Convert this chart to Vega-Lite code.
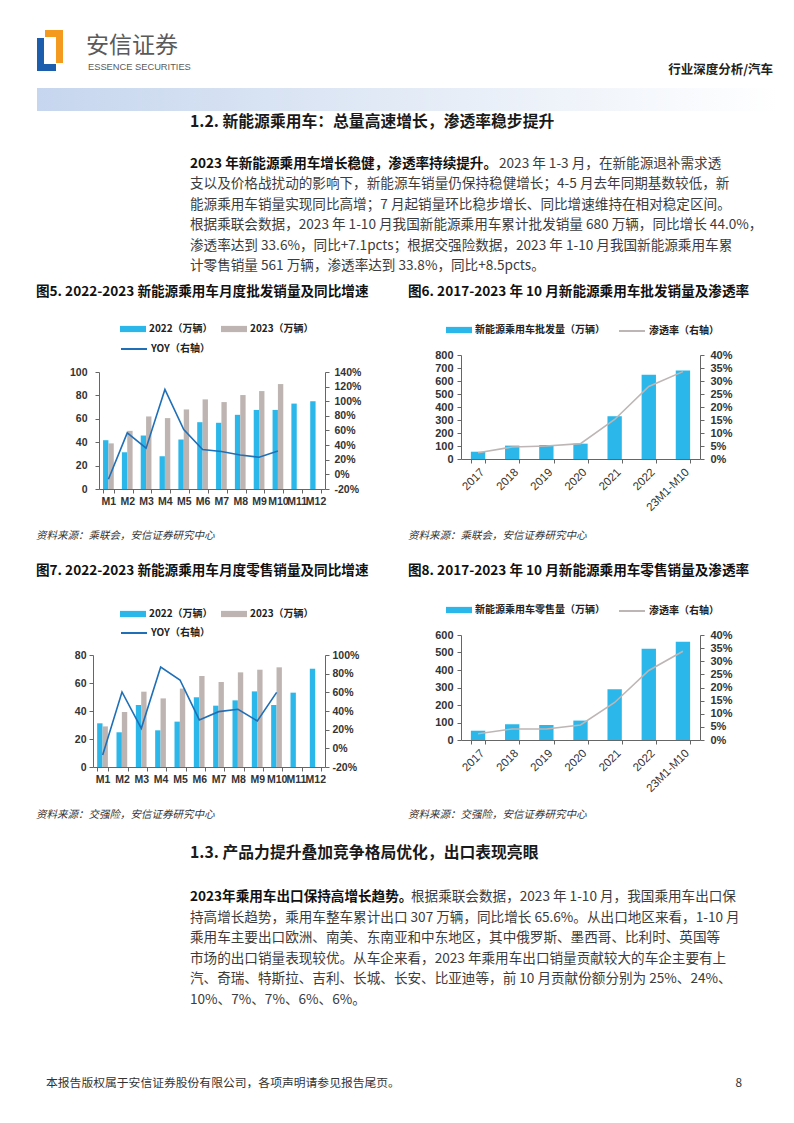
{
  "$schema": "https://vega.github.io/schema/vega-lite/v6.json",
  "padding": 0,
  "background": "white",
  "spacing": 0,
  "bounds": "flush",
  "columns": 4,
  "resolve": {"scale": {"color": "independent", "stroke": "independent"}, "legend": {"color": "independent", "stroke": "independent"}},
  "config": {
    "font": "Noto Sans CJK SC",
    "view": {"stroke": null},
    "axis": {"labelFont": "Liberation Sans", "labelFontWeight": "bold", "labelFontSize": 10.5, "labelColor": "#333333", "domainColor": "#666666", "tickColor": "#666666", "tickSize": 4, "grid": false},
    "legend": {"padding": 0, "labelFont": "Noto Sans CJK SC", "labelFontWeight": "bold", "labelFontSize": 10, "labelColor": "#222222", "labelOffset": 3, "columnPadding": 8, "title": null}
  },
  "concat": [
    {
      "width": 93, "height": 112,
      "data": {"values": [{"a": 1}]},
      "layer": [
        {"mark": {"type": "rect", "color": {"gradient": "linear", "x1": 0, "y1": 0, "x2": 1, "y2": 0, "stops": [{"offset": 0, "color": "#C6D6EE"}, {"offset": 0.55, "color": "#E6EDF7"}, {"offset": 1, "color": "#FFFFFF"}]}}, "encoding": {"x": {"value": 37}, "x2": {"value": 778}, "y": {"value": 85}, "y2": {"value": 108}}},
        {"mark": {"type": "rect", "color": "#1D5DAE"}, "encoding": {"x": {"value": 37}, "x2": {"value": 44}, "y": {"value": 35}, "y2": {"value": 68}}},
        {"mark": {"type": "rect", "color": "#1D5DAE"}, "encoding": {"x": {"value": 37}, "x2": {"value": 56}, "y": {"value": 61}, "y2": {"value": 68}}},
        {"mark": {"type": "rect", "color": "#F39A1F"}, "encoding": {"x": {"value": 45}, "x2": {"value": 63}, "y": {"value": 27}, "y2": {"value": 34}}},
        {"mark": {"type": "rect", "color": "#F39A1F"}, "encoding": {"x": {"value": 56}, "x2": {"value": 63}, "y": {"value": 27}, "y2": {"value": 60}}},
        {"data": {"values": [{"t": "安信证券"}]}, "mark": {"type": "text", "align": "left", "baseline": "middle", "fontSize": 23, "color": "#5A5A5A"}, "encoding": {"text": {"field": "t"}, "x": {"value": 86}, "y": {"value": 43}}},
        {"data": {"values": [{"t": "ESSENCE SECURITIES"}]}, "mark": {"type": "text", "align": "left", "baseline": "middle", "fontSize": 9.3, "font": "Liberation Sans", "color": "#5A5A5A"}, "encoding": {"text": {"field": "t"}, "x": {"value": 88}, "y": {"value": 64}}},
        {"data": {"values": [{"t": "行业深度分析/汽车"}]}, "mark": {"type": "text", "align": "right", "baseline": "middle", "fontSize": 12.5, "fontWeight": "bold", "color": "#222222"}, "encoding": {"text": {"field": "t"}, "x": {"value": 773}, "y": {"value": 67}}}
      ]
    },
    {"width": 232, "height": 1, "data": {"values": [{}]}, "mark": {"type": "point", "opacity": 0}},
    {"width": 136, "height": 1, "data": {"values": [{}]}, "mark": {"type": "point", "opacity": 0}},
    {"width": 239, "height": 1, "data": {"values": [{}]}, "mark": {"type": "point", "opacity": 0}},
    {
      "width": 93, "height": 168,
      "layer": [
        {"data": {"values": [{"t": "1.2. 新能源乘用车：总量高速增长，渗透率稳步提升"}]}, "mark": {"type": "text", "align": "left", "baseline": "middle", "fontSize": 15.8, "fontWeight": "bold", "color": "#1A1A1A"}, "encoding": {"text": {"field": "t"}, "x": {"value": 190}, "y": {"value": 7}}},
        {"data": {"values": [{"t": "2023 年新能源乘用车增长稳健，渗透率持续提升。"}]}, "mark": {"type": "text", "align": "left", "baseline": "middle", "fontSize": 13.6, "fontWeight": "bold", "color": "#111111"}, "encoding": {"text": {"field": "t"}, "x": {"value": 190}, "y": {"value": 49}}},
        {"data": {"values": [{"t": "2023 年 1-3 月，在新能源退补需求透"}]}, "mark": {"type": "text", "align": "left", "baseline": "middle", "fontSize": 13.6, "color": "#3C3C3C"}, "encoding": {"text": {"field": "t"}, "x": {"value": 499}, "y": {"value": 49}}},
        {"data": {"values": [
          {"i": 1, "t": "支以及价格战扰动的影响下，新能源车销量仍保持稳健增长；4-5 月去年同期基数较低，新"},
          {"i": 2, "t": "能源乘用车销量实现同比高增；7 月起销量环比稳步增长、同比增速维持在相对稳定区间。"},
          {"i": 3, "t": "根据乘联会数据，2023 年 1-10 月我国新能源乘用车累计批发销量 680 万辆，同比增长 44.0%，"},
          {"i": 4, "t": "渗透率达到 33.6%，同比+7.1pcts；根据交强险数据，2023 年 1-10 月我国新能源乘用车累"},
          {"i": 5, "t": "计零售销量 561 万辆，渗透率达到 33.8%，同比+8.5pcts。"}
        ]}, "mark": {"type": "text", "align": "left", "baseline": "middle", "fontSize": 13.6, "color": "#3C3C3C"}, "encoding": {"text": {"field": "t"}, "x": {"value": 190}, "y": {"field": "i", "type": "quantitative", "scale": {"domain": [0, 5], "range": [49, 151]}, "axis": null}}},
        {"mark": {"type": "rule", "color": "#333333", "strokeWidth": 1}, "encoding": {"x": {"value": 190}, "x2": {"value": 757}, "y": {"value": 120}}},
        {"mark": {"type": "rule", "color": "#333333", "strokeWidth": 1}, "encoding": {"x": {"value": 190}, "x2": {"value": 757}, "y": {"value": 141}}},
        {"mark": {"type": "rule", "color": "#333333", "strokeWidth": 1}, "encoding": {"x": {"value": 190}, "x2": {"value": 552}, "y": {"value": 161}}}
      ]
    },
    {"width": 232, "height": 1, "data": {"values": [{}]}, "mark": {"type": "point", "opacity": 0}},
    {"width": 136, "height": 1, "data": {"values": [{}]}, "mark": {"type": "point", "opacity": 0}},
    {"width": 239, "height": 1, "data": {"values": [{}]}, "mark": {"type": "point", "opacity": 0}},
    {
      "width": 93, "height": 72,
      "layer": [
        {"data": {"values": [{"t": "图5. 2022-2023 新能源乘用车月度批发销量及同比增速"}]}, "mark": {"type": "text", "align": "left", "baseline": "middle", "fontSize": 13.6, "fontWeight": "bold", "color": "#111111"}, "encoding": {"text": {"field": "t"}, "x": {"value": 36}, "y": {"value": 9}}},
        {"data": {"values": [{"t": "图6. 2017-2023 年 10 月新能源乘用车批发销量及渗透率"}]}, "mark": {"type": "text", "align": "left", "baseline": "middle", "fontSize": 13.6, "fontWeight": "bold", "color": "#111111"}, "encoding": {"text": {"field": "t"}, "x": {"value": 408}, "y": {"value": 9}}},
        {"mark": {"type": "rule", "color": "#111111", "strokeWidth": 1.5}, "encoding": {"x": {"value": 35}, "x2": {"value": 391}, "y": {"value": 21}}},
        {"mark": {"type": "rule", "color": "#111111", "strokeWidth": 1.5}, "encoding": {"x": {"value": 407}, "x2": {"value": 764}, "y": {"value": 21}}}
      ]
    },
    {"width": 232, "height": 1, "data": {"values": [{}]}, "mark": {"type": "point", "opacity": 0}},
    {"width": 136, "height": 1, "data": {"values": [{}]}, "mark": {"type": "point", "opacity": 0}},
    {"width": 239, "height": 1, "data": {"values": [{}]}, "mark": {"type": "point", "opacity": 0}},
    {"width": 93, "height": 1, "data": {"values": [{}]}, "mark": {"type": "point", "opacity": 0}},
    {
      "width": 232, "height": 134,
      "layer": [
        {
          "data": {"values": [
            {"m": "M1", "s": "2022（万辆）", "v": 41.7}, {"m": "M2", "s": "2022（万辆）", "v": 31.4}, {"m": "M3", "s": "2022（万辆）", "v": 45.7}, {"m": "M4", "s": "2022（万辆）", "v": 28.0}, {"m": "M5", "s": "2022（万辆）", "v": 42.3}, {"m": "M6", "s": "2022（万辆）", "v": 57.1}, {"m": "M7", "s": "2022（万辆）", "v": 56.6}, {"m": "M8", "s": "2022（万辆）", "v": 63.4}, {"m": "M9", "s": "2022（万辆）", "v": 67.6}, {"m": "M10", "s": "2022（万辆）", "v": 67.6}, {"m": "M11", "s": "2022（万辆）", "v": 73.0}, {"m": "M12", "s": "2022（万辆）", "v": 75.0},
            {"m": "M1", "s": "2023（万辆）", "v": 39.0}, {"m": "M2", "s": "2023（万辆）", "v": 49.7}, {"m": "M3", "s": "2023（万辆）", "v": 62.0}, {"m": "M4", "s": "2023（万辆）", "v": 60.6}, {"m": "M5", "s": "2023（万辆）", "v": 68.0}, {"m": "M6", "s": "2023（万辆）", "v": 76.6}, {"m": "M7", "s": "2023（万辆）", "v": 74.3}, {"m": "M8", "s": "2023（万辆）", "v": 80.3}, {"m": "M9", "s": "2023（万辆）", "v": 83.7}, {"m": "M10", "s": "2023（万辆）", "v": 89.7}
          ]},
          "mark": {"type": "bar"},
          "encoding": {
            "x": {"field": "m", "type": "nominal", "sort": null, "scale": {"domain": ["M1", "M2", "M3", "M4", "M5", "M6", "M7", "M8", "M9", "M10", "M11", "M12"], "paddingInner": 0.43, "paddingOuter": 0.215, "range": [6, 232]}, "axis": {"title": null, "labelAngle": 0, "tickBand": "extent", "labelPadding": 3}},
            "xOffset": {"field": "s", "type": "nominal", "sort": null, "scale": {"domain": ["2022（万辆）", "2023（万辆）"], "paddingInner": 0}},
            "y": {"field": "v", "type": "quantitative", "scale": {"domain": [0, 100], "nice": false, "range": [134, 17]}, "axis": {"title": null, "values": [0, 20, 40, 60, 80, 100], "labelPadding": 8, "offset": -6}},
            "color": {"field": "s", "type": "nominal", "sort": null, "scale": {"domain": ["2022（万辆）", "2023（万辆）"], "range": ["#2BB7E9", "#BEB5B2"]}, "legend": {"orient": "none", "legendX": 27, "legendY": -39, "direction": "horizontal", "symbolType": "M-1,-0.24H1V0.24H-1Z", "symbolSize": 676, "symbolStrokeWidth": 0}}
          }
        },
        {
          "data": {"values": [
            {"m": "M1", "k": "YOY（右轴）", "yoy": -0.067}, {"m": "M2", "k": "YOY（右轴）", "yoy": 0.568}, {"m": "M3", "k": "YOY（右轴）", "yoy": 0.358}, {"m": "M4", "k": "YOY（右轴）", "yoy": 1.162}, {"m": "M5", "k": "YOY（右轴）", "yoy": 0.614}, {"m": "M6", "k": "YOY（右轴）", "yoy": 0.34}, {"m": "M7", "k": "YOY（右轴）", "yoy": 0.312}, {"m": "M8", "k": "YOY（右轴）", "yoy": 0.266}, {"m": "M9", "k": "YOY（右轴）", "yoy": 0.234}, {"m": "M10", "k": "YOY（右轴）", "yoy": 0.321}
          ]},
          "mark": {"type": "line", "strokeWidth": 1.6},
          "encoding": {
            "x": {"field": "m", "type": "nominal", "sort": null},
            "y": {"field": "yoy", "type": "quantitative", "scale": {"domain": [-0.2, 1.4], "nice": false, "range": [134, 17]}, "axis": {"title": null, "orient": "right", "values": [-0.2, 0, 0.2, 0.4, 0.6, 0.8, 1.0, 1.2, 1.4], "labelExpr": "replace(format(datum.value, '.0%'), '−', '-')", "labelPadding": 5}},
            "stroke": {"field": "k", "type": "nominal", "scale": {"range": ["#1F6FB7"]}, "legend": {"orient": "none", "legendX": 27, "legendY": -20, "symbolType": "stroke", "symbolSize": 676, "symbolStrokeWidth": 2}}
          }
        }
      ],
      "resolve": {"scale": {"y": "independent"}}
    },
    {"width": 136, "height": 1, "data": {"values": [{}]}, "mark": {"type": "point", "opacity": 0}},
    {
      "width": 239, "height": 104,
      "layer": [
        {
          "data": {"values": [
            {"y": "2017", "k": "新能源乘用车批发量（万辆）", "v": 56}, {"y": "2018", "k": "新能源乘用车批发量（万辆）", "v": 103}, {"y": "2019", "k": "新能源乘用车批发量（万辆）", "v": 107}, {"y": "2020", "k": "新能源乘用车批发量（万辆）", "v": 118}, {"y": "2021", "k": "新能源乘用车批发量（万辆）", "v": 329}, {"y": "2022", "k": "新能源乘用车批发量（万辆）", "v": 649}, {"y": "23M1-M10", "k": "新能源乘用车批发量（万辆）", "v": 680}
          ]},
          "mark": {"type": "bar"},
          "encoding": {
            "x": {"field": "y", "type": "nominal", "sort": null, "scale": {"paddingInner": 0.58, "paddingOuter": 0.29}, "axis": {"title": null, "labelAngle": -45, "labelFontWeight": "normal", "labelFontSize": 11.5, "tickBand": "extent", "labelPadding": 3}},
            "y": {"field": "v", "type": "quantitative", "scale": {"domain": [0, 800], "nice": false}, "axis": {"title": null, "values": [0, 100, 200, 300, 400, 500, 600, 700, 800], "labelPadding": 4, "labelFontSize": 11}},
            "color": {"field": "k", "type": "nominal", "scale": {"range": ["#2BB7E9"]}, "legend": {"orient": "none", "legendX": -15, "legendY": -38, "symbolType": "M-1,-0.24H1V0.24H-1Z", "symbolSize": 676, "symbolStrokeWidth": 0}}
          }
        },
        {
          "data": {"values": [
            {"y": "2017", "k": "渗透率（右轴）", "p": 0.024}, {"y": "2018", "k": "渗透率（右轴）", "p": 0.046}, {"y": "2019", "k": "渗透率（右轴）", "p": 0.05}, {"y": "2020", "k": "渗透率（右轴）", "p": 0.059}, {"y": "2021", "k": "渗透率（右轴）", "p": 0.152}, {"y": "2022", "k": "渗透率（右轴）", "p": 0.279}, {"y": "23M1-M10", "k": "渗透率（右轴）", "p": 0.336}
          ]},
          "mark": {"type": "line", "strokeWidth": 1.6},
          "encoding": {
            "x": {"field": "y", "type": "nominal", "sort": null},
            "y": {"field": "p", "type": "quantitative", "scale": {"domain": [0, 0.4], "nice": false}, "axis": {"title": null, "orient": "right", "values": [0, 0.05, 0.1, 0.15, 0.2, 0.25, 0.3, 0.35, 0.4], "format": ".0%", "labelPadding": 6, "labelFontSize": 11}},
            "stroke": {"field": "k", "type": "nominal", "scale": {"range": ["#BDB6B5"]}, "legend": {"orient": "none", "legendX": 157, "legendY": -38, "symbolType": "stroke", "symbolSize": 676, "symbolStrokeWidth": 2}}
          }
        }
      ],
      "resolve": {"scale": {"y": "independent"}}
    },
    {
      "width": 93, "height": 146,
      "layer": [
        {"mark": {"type": "rule", "color": "#111111", "strokeWidth": 1.5}, "encoding": {"x": {"value": 35}, "x2": {"value": 391}, "y": {"value": 38}}},
        {"mark": {"type": "rule", "color": "#111111", "strokeWidth": 1.5}, "encoding": {"x": {"value": 407}, "x2": {"value": 764}, "y": {"value": 38}}},
        {"data": {"values": [{"t": "资料来源：乘联会，安信证券研究中心"}]}, "mark": {"type": "text", "align": "left", "baseline": "middle", "fontSize": 10.5, "fontStyle": "italic", "color": "#333333"}, "encoding": {"text": {"field": "t"}, "x": {"value": 36}, "y": {"value": 47}}},
        {"data": {"values": [{"t": "资料来源：乘联会，安信证券研究中心"}]}, "mark": {"type": "text", "align": "left", "baseline": "middle", "fontSize": 10.5, "fontStyle": "italic", "color": "#333333"}, "encoding": {"text": {"field": "t"}, "x": {"value": 408}, "y": {"value": 47}}},
        {"data": {"values": [{"t": "图7. 2022-2023 新能源乘用车月度零售销量及同比增速"}]}, "mark": {"type": "text", "align": "left", "baseline": "middle", "fontSize": 13.6, "fontWeight": "bold", "color": "#111111"}, "encoding": {"text": {"field": "t"}, "x": {"value": 36}, "y": {"value": 82}}},
        {"data": {"values": [{"t": "图8. 2017-2023 年 10 月新能源乘用车零售销量及渗透率"}]}, "mark": {"type": "text", "align": "left", "baseline": "middle", "fontSize": 13.6, "fontWeight": "bold", "color": "#111111"}, "encoding": {"text": {"field": "t"}, "x": {"value": 408}, "y": {"value": 82}}},
        {"mark": {"type": "rule", "color": "#111111", "strokeWidth": 1.5}, "encoding": {"x": {"value": 35}, "x2": {"value": 391}, "y": {"value": 94}}},
        {"mark": {"type": "rule", "color": "#111111", "strokeWidth": 1.5}, "encoding": {"x": {"value": 407}, "x2": {"value": 764}, "y": {"value": 94}}}
      ]
    },
    {"width": 232, "height": 1, "data": {"values": [{}]}, "mark": {"type": "point", "opacity": 0}},
    {"width": 136, "height": 1, "data": {"values": [{}]}, "mark": {"type": "point", "opacity": 0}},
    {"width": 239, "height": 1, "data": {"values": [{}]}, "mark": {"type": "point", "opacity": 0}},
    {"width": 93, "height": 1, "data": {"values": [{}]}, "mark": {"type": "point", "opacity": 0}},
    {
      "width": 232, "height": 132,
      "layer": [
        {
          "data": {"values": [
            {"m": "M1", "s": "2022（万辆）", "v": 31.2}, {"m": "M2", "s": "2022（万辆）", "v": 24.8}, {"m": "M3", "s": "2022（万辆）", "v": 44.3}, {"m": "M4", "s": "2022（万辆）", "v": 26.2}, {"m": "M5", "s": "2022（万辆）", "v": 32.4}, {"m": "M6", "s": "2022（万辆）", "v": 49.8}, {"m": "M7", "s": "2022（万辆）", "v": 43.8}, {"m": "M8", "s": "2022（万辆）", "v": 47.6}, {"m": "M9", "s": "2022（万辆）", "v": 54.0}, {"m": "M10", "s": "2022（万辆）", "v": 44.3}, {"m": "M11", "s": "2022（万辆）", "v": 53.1}, {"m": "M12", "s": "2022（万辆）", "v": 70.2},
            {"m": "M1", "s": "2023（万辆）", "v": 29.0}, {"m": "M2", "s": "2023（万辆）", "v": 39.3}, {"m": "M3", "s": "2023（万辆）", "v": 53.8}, {"m": "M4", "s": "2023（万辆）", "v": 49.0}, {"m": "M5", "s": "2023（万辆）", "v": 56.0}, {"m": "M6", "s": "2023（万辆）", "v": 65.0}, {"m": "M7", "s": "2023（万辆）", "v": 60.7}, {"m": "M8", "s": "2023（万辆）", "v": 67.6}, {"m": "M9", "s": "2023（万辆）", "v": 69.5}, {"m": "M10", "s": "2023（万辆）", "v": 71.2}
          ]},
          "mark": {"type": "bar"},
          "encoding": {
            "x": {"field": "m", "type": "nominal", "sort": null, "scale": {"domain": ["M1", "M2", "M3", "M4", "M5", "M6", "M7", "M8", "M9", "M10", "M11", "M12"], "paddingInner": 0.43, "paddingOuter": 0.215}, "axis": {"title": null, "labelAngle": 0, "tickBand": "extent", "labelPadding": 3}},
            "xOffset": {"field": "s", "type": "nominal", "sort": null, "scale": {"domain": ["2022（万辆）", "2023（万辆）"], "paddingInner": 0}},
            "y": {"field": "v", "type": "quantitative", "scale": {"domain": [0, 80], "nice": false, "range": [132, 20]}, "axis": {"title": null, "values": [0, 20, 40, 60, 80], "labelPadding": 3}},
            "color": {"field": "s", "type": "nominal", "sort": null, "scale": {"domain": ["2022（万辆）", "2023（万辆）"], "range": ["#2BB7E9", "#BEB5B2"]}, "legend": {"orient": "none", "legendX": 27, "legendY": -34, "direction": "horizontal", "symbolType": "M-1,-0.24H1V0.24H-1Z", "symbolSize": 676, "symbolStrokeWidth": 0}}
          }
        },
        {
          "data": {"values": [
            {"m": "M1", "k": "YOY（右轴）", "yoy": -0.071}, {"m": "M2", "k": "YOY（右轴）", "yoy": 0.604}, {"m": "M3", "k": "YOY（右轴）", "yoy": 0.214}, {"m": "M4", "k": "YOY（右轴）", "yoy": 0.871}, {"m": "M5", "k": "YOY（右轴）", "yoy": 0.732}, {"m": "M6", "k": "YOY（右轴）", "yoy": 0.304}, {"m": "M7", "k": "YOY（右轴）", "yoy": 0.393}, {"m": "M8", "k": "YOY（右轴）", "yoy": 0.418}, {"m": "M9", "k": "YOY（右轴）", "yoy": 0.293}, {"m": "M10", "k": "YOY（右轴）", "yoy": 0.60}
          ]},
          "mark": {"type": "line", "strokeWidth": 1.6},
          "encoding": {
            "x": {"field": "m", "type": "nominal", "sort": null},
            "y": {"field": "yoy", "type": "quantitative", "scale": {"domain": [-0.2, 1.0], "nice": false, "range": [132, 20]}, "axis": {"title": null, "orient": "right", "values": [-0.2, 0, 0.2, 0.4, 0.6, 0.8, 1.0], "labelExpr": "replace(format(datum.value, '.0%'), '−', '-')", "labelPadding": 3}},
            "stroke": {"field": "k", "type": "nominal", "scale": {"range": ["#1F6FB7"]}, "legend": {"orient": "none", "legendX": 27, "legendY": -16, "symbolType": "stroke", "symbolSize": 676, "symbolStrokeWidth": 2}}
          }
        }
      ],
      "resolve": {"scale": {"y": "independent"}}
    },
    {"width": 136, "height": 1, "data": {"values": [{}]}, "mark": {"type": "point", "opacity": 0}},
    {
      "width": 239, "height": 105,
      "layer": [
        {
          "data": {"values": [
            {"y": "2017", "k": "新能源乘用车零售量（万辆）", "v": 53}, {"y": "2018", "k": "新能源乘用车零售量（万辆）", "v": 90}, {"y": "2019", "k": "新能源乘用车零售量（万辆）", "v": 86}, {"y": "2020", "k": "新能源乘用车零售量（万辆）", "v": 111}, {"y": "2021", "k": "新能源乘用车零售量（万辆）", "v": 290}, {"y": "2022", "k": "新能源乘用车零售量（万辆）", "v": 521}, {"y": "23M1-M10", "k": "新能源乘用车零售量（万辆）", "v": 561}
          ]},
          "mark": {"type": "bar"},
          "encoding": {
            "x": {"field": "y", "type": "nominal", "sort": null, "scale": {"paddingInner": 0.58, "paddingOuter": 0.29}, "axis": {"title": null, "labelAngle": -45, "labelFontWeight": "normal", "labelFontSize": 11.5, "tickBand": "extent", "labelPadding": 3}},
            "y": {"field": "v", "type": "quantitative", "scale": {"domain": [0, 600], "nice": false}, "axis": {"title": null, "values": [0, 100, 200, 300, 400, 500, 600], "labelPadding": 4, "labelFontSize": 11}},
            "color": {"field": "k", "type": "nominal", "scale": {"range": ["#2BB7E9"]}, "legend": {"orient": "none", "legendX": -15, "legendY": -38, "symbolType": "M-1,-0.24H1V0.24H-1Z", "symbolSize": 676, "symbolStrokeWidth": 0}}
          }
        },
        {
          "data": {"values": [
            {"y": "2017", "k": "渗透率（右轴）", "p": 0.024}, {"y": "2018", "k": "渗透率（右轴）", "p": 0.042}, {"y": "2019", "k": "渗透率（右轴）", "p": 0.042}, {"y": "2020", "k": "渗透率（右轴）", "p": 0.057}, {"y": "2021", "k": "渗透率（右轴）", "p": 0.143}, {"y": "2022", "k": "渗透率（右轴）", "p": 0.265}, {"y": "23M1-M10", "k": "渗透率（右轴）", "p": 0.338}
          ]},
          "mark": {"type": "line", "strokeWidth": 1.6},
          "encoding": {
            "x": {"field": "y", "type": "nominal", "sort": null},
            "y": {"field": "p", "type": "quantitative", "scale": {"domain": [0, 0.4], "nice": false}, "axis": {"title": null, "orient": "right", "values": [0, 0.05, 0.1, 0.15, 0.2, 0.25, 0.3, 0.35, 0.4], "format": ".0%", "labelPadding": 6, "labelFontSize": 11}},
            "stroke": {"field": "k", "type": "nominal", "scale": {"range": ["#BDB6B5"]}, "legend": {"orient": "none", "legendX": 157, "legendY": -38, "symbolType": "stroke", "symbolSize": 676, "symbolStrokeWidth": 2}}
          }
        }
      ],
      "resolve": {"scale": {"y": "independent"}}
    },
    {
      "width": 93, "height": 359,
      "layer": [
        {"mark": {"type": "rule", "color": "#111111", "strokeWidth": 1.5}, "encoding": {"x": {"value": 35}, "x2": {"value": 391}, "y": {"value": 39}}},
        {"mark": {"type": "rule", "color": "#111111", "strokeWidth": 1.5}, "encoding": {"x": {"value": 407}, "x2": {"value": 764}, "y": {"value": 39}}},
        {"data": {"values": [{"t": "资料来源：交强险，安信证券研究中心"}]}, "mark": {"type": "text", "align": "left", "baseline": "middle", "fontSize": 10.5, "fontStyle": "italic", "color": "#333333"}, "encoding": {"text": {"field": "t"}, "x": {"value": 36}, "y": {"value": 48}}},
        {"data": {"values": [{"t": "资料来源：交强险，安信证券研究中心"}]}, "mark": {"type": "text", "align": "left", "baseline": "middle", "fontSize": 10.5, "fontStyle": "italic", "color": "#333333"}, "encoding": {"text": {"field": "t"}, "x": {"value": 408}, "y": {"value": 48}}},
        {"data": {"values": [{"t": "1.3. 产品力提升叠加竞争格局优化，出口表现亮眼"}]}, "mark": {"type": "text", "align": "left", "baseline": "middle", "fontSize": 15.8, "fontWeight": "bold", "color": "#1A1A1A"}, "encoding": {"text": {"field": "t"}, "x": {"value": 190}, "y": {"value": 86}}},
        {"data": {"values": [{"t": "2023年乘用车出口保持高增长趋势。"}]}, "mark": {"type": "text", "align": "left", "baseline": "middle", "fontSize": 13.6, "fontWeight": "bold", "color": "#111111"}, "encoding": {"text": {"field": "t"}, "x": {"value": 190}, "y": {"value": 130}}},
        {"data": {"values": [{"t": "根据乘联会数据，2023 年 1-10 月，我国乘用车出口保"}]}, "mark": {"type": "text", "align": "left", "baseline": "middle", "fontSize": 13.6, "color": "#3C3C3C"}, "encoding": {"text": {"field": "t"}, "x": {"value": 411}, "y": {"value": 130}}},
        {"data": {"values": [
          {"i": 1, "t": "持高增长趋势，乘用车整车累计出口 307 万辆，同比增长 65.6%。从出口地区来看，1-10 月"},
          {"i": 2, "t": "乘用车主要出口欧洲、南美、东南亚和中东地区，其中俄罗斯、墨西哥、比利时、英国等"},
          {"i": 3, "t": "市场的出口销量表现较优。从车企来看，2023 年乘用车出口销量贡献较大的车企主要有上"},
          {"i": 4, "t": "汽、奇瑞、特斯拉、吉利、长城、长安、比亚迪等，前 10 月贡献份额分别为 25%、24%、"},
          {"i": 5, "t": "10%、7%、7%、6%、6%。"}
        ]}, "mark": {"type": "text", "align": "left", "baseline": "middle", "fontSize": 13.6, "color": "#3C3C3C"}, "encoding": {"text": {"field": "t"}, "x": {"value": 190}, "y": {"field": "i", "type": "quantitative", "scale": {"domain": [0, 5], "range": [130, 233]}, "axis": null}}},
        {"mark": {"type": "rule", "color": "#111111", "strokeWidth": 1.2}, "encoding": {"x": {"value": 45}, "x2": {"value": 757}, "y": {"value": 304}}},
        {"data": {"values": [{"t": "本报告版权属于安信证券股份有限公司，各项声明请参见报告尾页。"}]}, "mark": {"type": "text", "align": "left", "baseline": "middle", "fontSize": 11.8, "color": "#333333"}, "encoding": {"text": {"field": "t"}, "x": {"value": 46}, "y": {"value": 316}}},
        {"data": {"values": [{"t": "8"}]}, "mark": {"type": "text", "align": "right", "baseline": "middle", "fontSize": 11.8, "color": "#333333"}, "encoding": {"text": {"field": "t"}, "x": {"value": 742}, "y": {"value": 316}}}
      ]
    },
    {"width": 232, "height": 1, "data": {"values": [{}]}, "mark": {"type": "point", "opacity": 0}},
    {"width": 136, "height": 1, "data": {"values": [{}]}, "mark": {"type": "point", "opacity": 0}},
    {"width": 239, "height": 1, "data": {"values": [{}]}, "mark": {"type": "point", "opacity": 0}}
  ]
}
